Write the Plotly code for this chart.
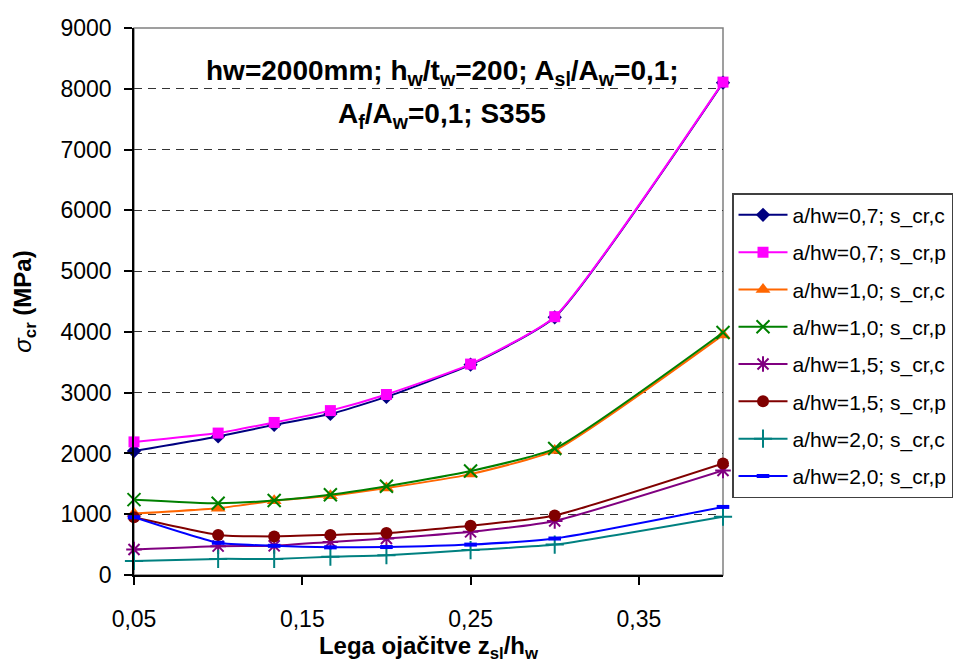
import plotly.graph_objects as go

# Stiffener position z_sl/h_w
z_pos = [0.05, 0.1, 0.1333, 0.1667, 0.2, 0.25, 0.3, 0.4]

# Critical stress sigma_cr (MPa) for each a/hw ratio (c = computed, p = program)
s07_c = [2040, 2280, 2470, 2650, 2930, 3460, 4240, 8100]
s07_p = [2190, 2335, 2510, 2705, 2970, 3470, 4250, 8110]
s10_c = [1010, 1100, 1220, 1305, 1430, 1660, 2050, 3950]
s10_p = [1240, 1180, 1225, 1320, 1460, 1710, 2080, 3990]
s15_c = [420, 475, 480, 545, 600, 710, 890, 1720]
s15_p = [950, 660, 635, 660, 690, 810, 980, 1835]
s20_c = [230, 265, 265, 300, 325, 410, 500, 960]
s20_p = [950, 530, 480, 455, 460, 500, 600, 1120]

series_names = [
    "a/hw=0,7; s_cr,c", "a/hw=0,7; s_cr,p",
    "a/hw=1,0; s_cr,c", "a/hw=1,0; s_cr,p",
    "a/hw=1,5; s_cr,c", "a/hw=1,5; s_cr,p",
    "a/hw=2,0; s_cr,c", "a/hw=2,0; s_cr,p",
]
series_values = [s07_c, s07_p, s10_c, s10_p, s15_c, s15_p, s20_c, s20_p]

x_tickvals = [0.05, 0.15, 0.25, 0.35]
x_ticktext = ["0,05", "0,15", "0,25", "0,35"]
y_tickvals = list(range(0, 10000, 1000))
y_ticktext = [str(v) for v in y_tickvals]

styles = [
    dict(color="#000080", symbol="diamond", size=11, lw=0),
    dict(color="#FF00FF", symbol="square", size=11, lw=0),
    dict(color="#FF6600", symbol="triangle-up", size=13, lw=0),
    dict(color="#008000", symbol="x-thin-open", size=13, lw=2),
    dict(color="#800080", symbol="asterisk-open", size=13, lw=2),
    dict(color="#800000", symbol="circle", size=12, lw=0),
    dict(color="#008080", symbol="cross-thin-open", size=13, lw=2),
    dict(color="#0000FF", symbol="line-ew-open", size=9, lw=4),
]

FONT = "Arial, Liberation Sans, sans-serif"

fig = go.Figure()
for i, (name, vals, st) in enumerate(zip(series_names, series_values, styles)):
    fig.add_trace(go.Scatter(
        x=z_pos, y=vals, name=name, mode="lines+markers",
        legendgroup=f"g{i}",
        line=dict(color=st["color"], width=2, shape="spline", smoothing=0.5),
        marker=dict(symbol=st["symbol"], size=st["size"], color=st["color"],
                    line=dict(color=st["color"], width=st["lw"])),
        cliponaxis=False,
    ))

# grey frame of the plot area
fig.add_shape(type="rect", xref="paper", yref="paper", x0=0, x1=1, y0=0, y1=1,
              line=dict(color="#808080", width=1.5), layer="below")

fig.add_annotation(
    text="<b>hw=2000mm; h<sub>w</sub>/t<sub>w</sub>=200; A<sub>sl</sub>/A<sub>w</sub>=0,1;</b>",
    xref="paper", yref="paper", x=0.523, y=0.955, showarrow=False,
    font=dict(family=FONT, size=28, color="black"))
fig.add_annotation(
    text="<b>A<sub>f</sub>/A<sub>w</sub>=0,1; S355</b>",
    xref="paper", yref="paper", x=0.523, y=0.875, showarrow=False,
    font=dict(family=FONT, size=28, color="black"))

fig.update_layout(
    width=967, height=663,
    margin=dict(l=134, r=244, t=28, b=88),
    paper_bgcolor="white", plot_bgcolor="white",
    font=dict(family=FONT, size=23, color="black"),
    showlegend=True,
    legend=dict(
        x=1.0153, y=0.698, xanchor="left", yanchor="top",
        bordercolor="#404040", borderwidth=1.5, bgcolor="white",
        font=dict(family=FONT, size=21, color="black"),
        traceorder="grouped", tracegroupgap=7, itemwidth=49,
    ),
    xaxis=dict(
        range=[0.05, 0.4], tickvals=x_tickvals, ticktext=x_ticktext,
        showgrid=False, zeroline=False, automargin=False,
        showline=True, linecolor="black", linewidth=1.5,
        ticks="outside", ticklen=8, tickcolor="black", tickwidth=1.5,
        ticklabelstandoff=15,
        tickfont=dict(family=FONT, size=23),
        title=dict(text="<b>Lega ojačitve z<sub>sl</sub>/h<sub>w</sub></b>",
                   font=dict(family=FONT, size=24), standoff=6),
    ),
    yaxis=dict(
        range=[0, 9000], tickvals=y_tickvals, ticktext=y_ticktext,
        showgrid=True, gridcolor="#333333", griddash="8px,6px", gridwidth=1,
        zeroline=False, automargin=False,
        showline=True, linecolor="black", linewidth=1.5,
        ticks="outside", ticklen=8, tickcolor="black", tickwidth=1.5,
        ticklabelstandoff=8,
        tickfont=dict(family=FONT, size=23),
        title=dict(text="<i>σ</i><b><sub>cr</sub> (MPa)</b>",
                   font=dict(family=FONT, size=24), standoff=22),
    ),
)

fig.write_html("out.html")
